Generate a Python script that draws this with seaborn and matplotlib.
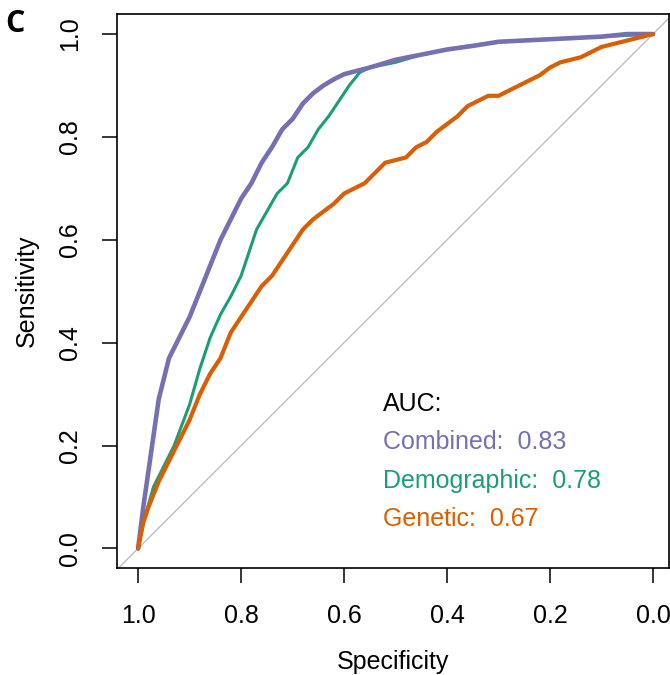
import matplotlib

matplotlib.use("Agg")
import matplotlib.pyplot as plt
import pandas as pd
import seaborn as sns

# ROC curves (specificity, sensitivity)
combined_spec = [1.0, 0.99, 0.98, 0.97, 0.96, 0.95, 0.94, 0.92, 0.90, 0.88, 0.86, 0.84, 0.82,
                 0.80, 0.78, 0.76, 0.74, 0.72, 0.70, 0.68, 0.66, 0.64, 0.62, 0.60, 0.55,
                 0.50, 0.45, 0.40, 0.35, 0.30, 0.20, 0.10, 0.05, 0.0]
combined_sens = [0.0, 0.08, 0.15, 0.22, 0.29, 0.33, 0.37, 0.41, 0.45, 0.50, 0.55, 0.60, 0.64,
                 0.68, 0.71, 0.75, 0.78, 0.815, 0.835, 0.865, 0.885, 0.90, 0.912, 0.922, 0.935,
                 0.95, 0.96, 0.97, 0.977, 0.985, 0.99, 0.995, 1.0, 1.0]

demographic_spec = [1.0, 0.99, 0.97, 0.95, 0.93, 0.90, 0.88, 0.86, 0.84, 0.82, 0.80, 0.78,
                    0.77, 0.75, 0.73, 0.71, 0.69, 0.67, 0.65, 0.63, 0.61, 0.59, 0.57, 0.55,
                    0.50, 0.45, 0.40, 0.35, 0.30, 0.20, 0.10, 0.0]
demographic_sens = [0.0, 0.05, 0.12, 0.16, 0.20, 0.28, 0.35, 0.41, 0.455, 0.49, 0.53, 0.59,
                    0.62, 0.655, 0.69, 0.71, 0.76, 0.78, 0.815, 0.84, 0.87, 0.90, 0.925, 0.935,
                    0.945, 0.96, 0.97, 0.978, 0.985, 0.99, 0.995, 1.0]

genetic_spec = [1.0, 0.99, 0.98, 0.96, 0.94, 0.92, 0.90, 0.88, 0.86, 0.84, 0.82, 0.80, 0.78,
                0.76, 0.74, 0.72, 0.70, 0.68, 0.66, 0.64, 0.62, 0.60, 0.58, 0.56, 0.54, 0.52,
                0.50, 0.48, 0.46, 0.44, 0.42, 0.40, 0.38, 0.36, 0.34, 0.32, 0.30, 0.28, 0.26,
                0.24, 0.22, 0.20, 0.18, 0.16, 0.14, 0.12, 0.10, 0.08, 0.06, 0.04, 0.02, 0.0]
genetic_sens = [0.0, 0.05, 0.08, 0.13, 0.17, 0.21, 0.25, 0.30, 0.34, 0.37, 0.42, 0.45, 0.48,
                0.51, 0.53, 0.56, 0.59, 0.62, 0.64, 0.655, 0.67, 0.69, 0.70, 0.71, 0.73, 0.75,
                0.755, 0.76, 0.78, 0.79, 0.81, 0.825, 0.84, 0.86, 0.87, 0.88, 0.88, 0.89, 0.90,
                0.91, 0.92, 0.935, 0.945, 0.95, 0.955, 0.965, 0.975, 0.98, 0.985, 0.99, 0.995, 1.0]

model_names = ["Combined", "Demographic", "Genetic"]
auc_values = [0.83, 0.78, 0.67]
tick_values = [0.0, 0.2, 0.4, 0.6, 0.8, 1.0]

COLORS = {"Combined": "#7570b3", "Demographic": "#1b9e77", "Genetic": "#d95f02"}
WIDTHS = {"Combined": 3.3, "Demographic": 2.2, "Genetic": 3.0}
FONT_SIZE = 18

sns.set_style("ticks", rc={"text.color": "black", "axes.labelcolor": "black",
                           "xtick.color": "black", "ytick.color": "black"})
plt.rcParams["font.family"] = ["Liberation Sans", "DejaVu Sans"]

curves = pd.concat(
    [
        pd.DataFrame({"specificity": combined_spec, "sensitivity": combined_sens, "model": "Combined"}),
        pd.DataFrame({"specificity": demographic_spec, "sensitivity": demographic_sens, "model": "Demographic"}),
        pd.DataFrame({"specificity": genetic_spec, "sensitivity": genetic_sens, "model": "Genetic"}),
    ],
    ignore_index=True,
)

fig = plt.figure(figsize=(6.7, 6.75), dpi=100)
ax = fig.add_axes([117 / 670, 107 / 675, 552 / 670, 554 / 675])

# chance diagonal
ax.plot([1.1, -0.1], [-0.1, 1.1], color="#bebebe", lw=1.0, zorder=1)

for name in model_names:
    sns.lineplot(
        data=curves[curves["model"] == name],
        x="specificity",
        y="sensitivity",
        sort=False,
        estimator=None,
        color=COLORS[name],
        lw=WIDTHS[name],
        ax=ax,
        zorder=3 if name != "Demographic" else 2,
    )

ax.set_xlim(1.041, -0.031)
ax.set_ylim(-0.038, 1.039)
ax.set_xticks(tick_values)
ax.set_yticks(tick_values)
ax.set_xticklabels([f"{v:.1f}" for v in tick_values])
ax.set_yticklabels([f"{v:.1f}" for v in tick_values], rotation=90, va="center")
ax.tick_params(axis="both", length=11, width=1.1, labelsize=FONT_SIZE,
               colors="black", labelcolor="black")
ax.tick_params(axis="x", pad=15)
ax.tick_params(axis="y", pad=14)
for spine in ax.spines.values():
    spine.set_visible(True)
    spine.set_linewidth(1.2)
    spine.set_color("black")

ax.set_xlabel("Specificity", fontsize=FONT_SIZE, labelpad=16, color="black")
ax.set_ylabel("Sensitivity", fontsize=FONT_SIZE, labelpad=14, color="black")

ax.text(0.525, 0.28, "AUC:", fontsize=FONT_SIZE, color="black", ha="left", va="center")
for i, (name, auc) in enumerate(zip(model_names, auc_values)):
    ax.text(0.525, 0.207 - i * 0.075, f"{name}:  {auc:.2f}", fontsize=FONT_SIZE,
            color=COLORS[name], ha="left", va="center")

fig.text(5 / 670, 1 - 24 / 675, "C", fontsize=22, fontweight="bold", color="black",
         family=["Open Sans", "DejaVu Sans"], ha="left", va="center")

fig.savefig("out.png", dpi=100)
